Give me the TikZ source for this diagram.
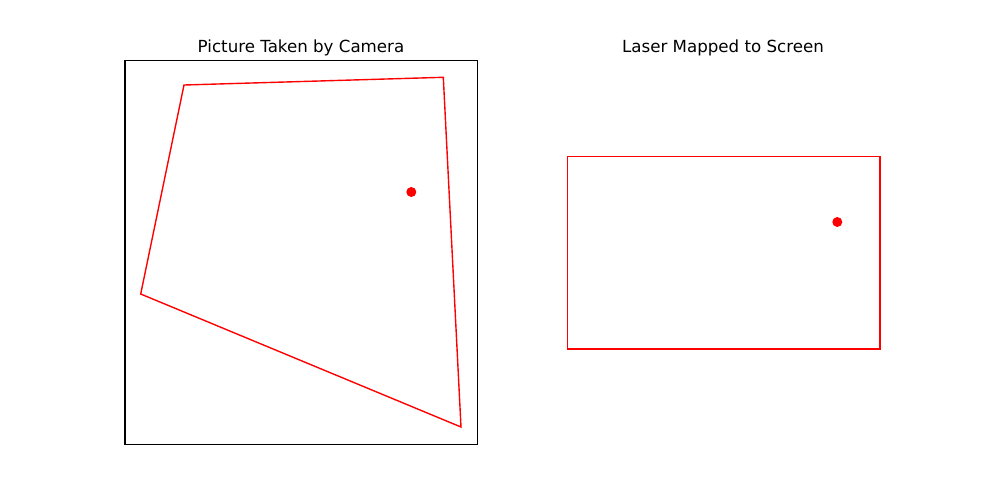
\documentclass[tikz,border=0pt]{standalone}
\usepackage{fontspec}
\setmainfont{DejaVu Sans}
\begin{document}
\begin{tikzpicture}[x=0.72pt,y=-0.72pt,
  frame/.style={draw=black,line width=0.8pt},
  quad/.style={draw=red,line width=1pt,line join=miter},
  laserdot/.style={circle,fill=red,inner sep=0pt,minimum size=7.2pt},
  ttl/.style={anchor=base,inner sep=0pt,font=\fontsize{12}{14}\selectfont}]
\useasboundingbox (0,0) rectangle (1000,500);
% left panel
\node[ttl] (t1) at (301,52) {Picture Taken by Camera};
\draw[frame] (125,60.5) rectangle (477.5,444.5);
\coordinate (a) at (184,85);
\coordinate (b) at (443.3,77.3);
\coordinate (c) at (461,427);
\coordinate (d) at (140.7,294);
\draw[quad] (a) -- (b) -- (c) -- (d) -- cycle;
\node[laserdot] (p1) at (411.3,192) {};
% right panel
\node[ttl] (t2) at (723,52) {Laser Mapped to Screen};
\draw[quad] (567.3,156.5) rectangle (880,349);
\node[laserdot] (p2) at (837.3,222) {};
\end{tikzpicture}
\end{document}
